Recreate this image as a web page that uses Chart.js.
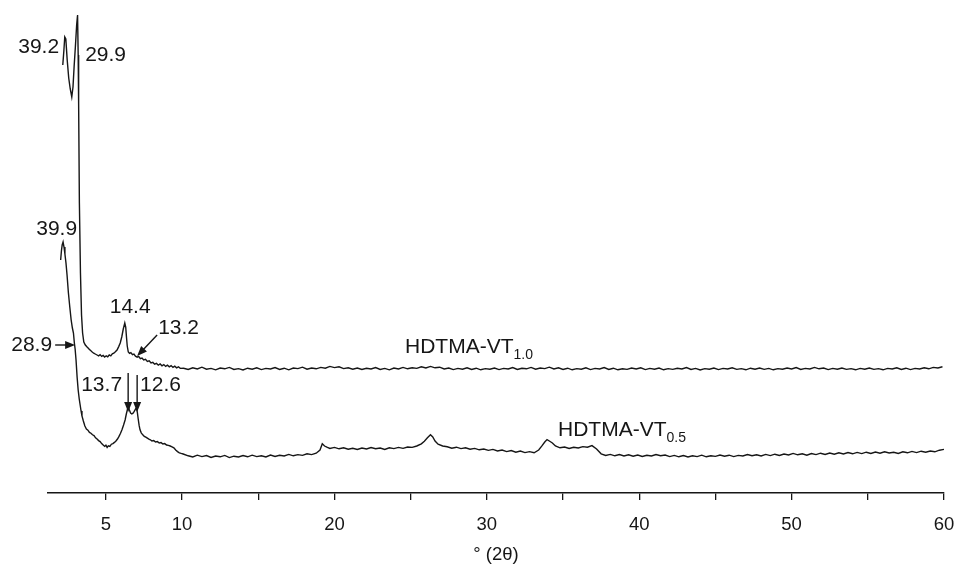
<!DOCTYPE html>
<html>
<head>
<meta charset="utf-8">
<script src="https://cdn.jsdelivr.net/npm/chart.js@4.4.1/dist/chart.umd.min.js"></script>
<style>
  html, body { margin: 0; padding: 0; background: #fff; }
  #wrap { width: 957px; height: 568px; position: relative; }
</style>
</head>
<body>
<div id="wrap"><canvas id="xrd"></canvas></div>
<script>
// XRD patterns, [2theta (deg), intensity (arb. counts)]
const topScan = [
  [2.17,4280],[2.24,4420],[2.30,4560],[2.37,4540],[2.46,4330],[2.56,4150],[2.66,4040],[2.76,3960],[2.84,4060],[2.92,4280],
  [3.00,4470],[3.08,4680],[3.14,4780],[3.18,4380],[3.21,3900],[3.26,2900],[3.33,2200],[3.40,1780],[3.47,1600],[3.55,1510],
  [3.65,1480],[3.75,1462],[3.83,1450],[3.92,1436],[4.00,1424],[4.10,1410],[4.20,1398],[4.30,1390],[4.42,1380],[4.52,1372],
  [4.62,1384],[4.72,1366],[4.82,1376],[4.92,1360],[5.02,1372],[5.12,1362],[5.22,1380],[5.32,1372],[5.42,1392],[5.52,1398],
  [5.62,1412],[5.73,1430],[5.84,1464],[5.94,1500],[6.04,1560],[6.14,1640],[6.24,1700],[6.30,1660],[6.35,1560],[6.40,1470],
  [6.47,1410],[6.55,1396],[6.64,1404],[6.74,1384],[6.84,1390],[6.94,1368],[7.05,1358],[7.15,1366],[7.26,1344],[7.37,1350],
  [7.48,1330],[7.60,1336],[7.72,1316],[7.84,1322],[7.96,1300],[8.08,1306],[8.20,1288],[8.32,1296],[8.44,1278],[8.56,1290],
  [8.68,1272],[8.80,1284],[8.92,1266],[9.04,1278],[9.16,1262],[9.28,1274],[9.40,1256],[9.52,1268],[9.64,1252],[9.76,1262],
  [9.88,1246],
  [10.1,1248],[10.4,1236],[10.7,1252],[11.0,1240],[11.3,1258],[11.6,1238],[11.9,1246],[12.2,1232],[12.5,1250],[12.8,1242],
  [13.1,1256],[13.4,1236],[13.7,1244],[14.0,1230],[14.3,1248],[14.6,1238],[14.9,1252],[15.2,1234],[15.5,1246],[15.8,1240],
  [16.1,1254],[16.4,1236],[16.7,1248],[17.0,1232],[17.3,1250],[17.6,1244],[17.9,1258],[18.2,1238],[18.5,1250],[18.8,1242],
  [19.1,1256],[19.4,1248],[19.7,1266],[20.0,1254],[20.3,1262],[20.6,1244],[20.9,1252],[21.2,1238],[21.5,1250],[21.8,1236],
  [22.1,1248],[22.4,1240],[22.7,1254],[23.0,1236],[23.3,1246],[23.6,1232],[23.9,1250],[24.2,1240],[24.5,1256],[24.8,1242],
  [25.1,1252],[25.4,1246],[25.7,1262],[26.0,1250],[26.3,1266],[26.6,1252],[26.9,1258],[27.2,1240],[27.5,1250],[27.8,1234],
  [28.1,1246],[28.4,1238],[28.7,1252],[29.0,1236],[29.3,1248],[29.6,1232],[29.9,1244],[30.2,1238],[30.5,1250],[30.8,1234],
  [31.1,1246],[31.4,1240],[31.7,1254],[32.0,1236],[32.3,1248],[32.6,1242],[32.9,1256],[33.2,1238],[33.5,1250],[33.8,1244],
  [34.1,1258],[34.4,1240],[34.7,1252],[35.0,1236],[35.3,1248],[35.6,1232],[35.9,1244],[36.2,1238],[36.5,1252],[36.8,1234],
  [37.1,1246],[37.4,1240],[37.7,1254],[38.0,1236],[38.3,1248],[38.6,1232],[38.9,1242],[39.2,1236],[39.5,1250],[39.8,1240],
  [40.1,1252],[40.4,1234],[40.7,1246],[41.0,1238],[41.3,1250],[41.6,1232],[41.9,1244],[42.2,1236],[42.5,1248],[42.8,1240],
  [43.1,1254],[43.4,1236],[43.7,1246],[44.0,1230],[44.3,1244],[44.6,1238],[44.9,1250],[45.2,1234],[45.5,1246],[45.8,1240],
  [46.1,1252],[46.4,1236],[46.7,1244],[47.0,1232],[47.3,1248],[47.6,1238],[47.9,1250],[48.2,1236],[48.5,1246],[48.8,1232],
  [49.1,1244],[49.4,1238],[49.7,1250],[50.0,1240],[50.3,1254],[50.6,1236],[50.9,1246],[51.2,1240],[51.5,1256],[51.8,1242],
  [52.1,1250],[52.4,1234],[52.7,1246],[53.0,1238],[53.3,1250],[53.6,1236],[53.9,1244],[54.2,1232],[54.5,1246],[54.8,1238],
  [55.1,1250],[55.4,1236],[55.7,1244],[56.0,1232],[56.3,1246],[56.6,1240],[56.9,1252],[57.2,1236],[57.5,1248],[57.8,1234],
  [58.1,1246],[58.4,1240],[58.7,1252],[59.0,1242],[59.3,1256],[59.6,1250],[59.9,1262]
];

const bottomScan = [
  [2.03,2330],[2.08,2420],[2.13,2480],[2.19,2510],[2.25,2460],[2.31,2390],[2.38,2300],[2.45,2180],[2.54,2000],[2.63,1860],
  [2.72,1730],[2.80,1650],[2.87,1600],[2.93,1500],[2.98,1440],[3.04,1330],[3.11,1160],[3.18,1030],[3.25,940],[3.31,880],
  [3.37,820],[3.43,770],[3.52,720],[3.62,670],[3.72,640],[3.82,628],[3.92,606],[4.02,598],[4.12,582],[4.22,574],
  [4.32,552],[4.42,540],[4.52,524],[4.62,514],[4.72,494],[4.82,480],[4.92,466],[5.00,478],[5.08,456],[5.16,472],
  [5.26,466],[5.36,488],[5.46,494],[5.56,506],[5.66,520],[5.76,540],[5.86,566],[5.96,598],[6.06,636],[6.16,680],
  [6.26,730],[6.34,790],[6.42,840],[6.47,862],[6.54,830],[6.62,800],[6.70,790],[6.78,798],[6.86,816],[6.94,838],
  [7.00,852],[7.06,810],[7.12,740],[7.18,676],[7.24,632],[7.32,602],[7.42,582],[7.52,566],[7.62,558],[7.72,548],
  [7.82,538],[7.92,532],[8.02,520],[8.14,524],[8.26,510],[8.38,514],[8.50,500],[8.62,504],[8.74,490],[8.86,494],
  [8.98,480],[9.10,476],[9.22,470],[9.34,462],[9.46,452],[9.58,430],[9.70,414],[9.82,402],[9.94,396],[10.07,390],
  [10.4,372],[10.7,360],[11.0,378],[11.3,364],[11.6,374],[11.9,356],[12.2,370],[12.5,362],[12.8,376],[13.1,354],
  [13.4,368],[13.7,360],[14.0,374],[14.3,362],[14.6,378],[14.9,364],[15.2,372],[15.5,360],[15.8,380],[16.1,366],
  [16.4,378],[16.7,370],[17.0,386],[17.3,372],[17.6,384],[17.9,376],[18.2,392],[18.5,384],[18.8,398],[19.05,430],
  [19.2,492],[19.35,470],[19.5,458],[19.7,446],[20.0,456],[20.3,442],[20.6,452],[20.9,438],[21.2,448],[21.5,436],
  [21.8,450],[22.1,440],[22.4,454],[22.7,442],[23.0,450],[23.3,436],[23.6,452],[23.9,444],[24.2,456],[24.5,446],
  [24.8,460],[25.1,456],[25.4,470],[25.7,492],[25.9,518],[26.1,552],[26.3,582],[26.45,560],[26.6,520],[26.8,488],
  [27.1,470],[27.4,462],[27.7,448],[28.0,458],[28.3,444],[28.6,452],[28.9,438],[29.2,446],[29.5,432],[29.8,440],
  [30.1,426],[30.4,436],[30.7,420],[31.0,430],[31.3,414],[31.6,424],[31.9,408],[32.2,420],[32.5,404],[32.8,414],
  [33.1,402],[33.4,430],[33.6,468],[33.8,510],[33.95,534],[34.1,520],[34.3,500],[34.5,470],[34.8,452],[35.1,460],
  [35.4,446],[35.7,458],[36.0,450],[36.3,464],[36.6,458],[36.9,474],[37.2,440],[37.5,392],[37.8,376],[38.1,386],
  [38.4,372],[38.7,384],[39.0,370],[39.3,382],[39.6,368],[39.9,380],[40.2,366],[40.5,378],[40.8,370],[41.1,384],
  [41.4,372],[41.7,380],[42.0,364],[42.3,376],[42.6,362],[42.9,374],[43.2,360],[43.5,372],[43.8,364],[44.1,378],
  [44.4,362],[44.7,372],[45.0,366],[45.3,380],[45.6,368],[45.9,378],[46.2,364],[46.5,376],[46.8,370],[47.1,384],
  [47.4,372],[47.7,382],[48.0,370],[48.3,386],[48.6,374],[48.9,388],[49.2,376],[49.5,390],[49.8,380],[50.1,396],
  [50.4,382],[50.7,392],[51.0,378],[51.3,394],[51.6,384],[51.9,398],[52.2,386],[52.5,400],[52.8,388],[53.1,402],
  [53.4,390],[53.7,404],[54.0,392],[54.3,406],[54.6,394],[54.9,408],[55.2,396],[55.5,410],[55.8,398],[56.1,412],
  [56.4,400],[56.7,408],[57.0,396],[57.3,412],[57.6,402],[57.9,416],[58.2,404],[58.5,418],[58.8,408],[59.1,420],
  [59.4,412],[59.7,428],[60.0,436]
];

const majorTicks = [5, 10, 20, 30, 40, 50, 60];
const minorTicks = [15, 25, 35, 45, 55];

// d-spacings (Å) written next to the peaks, placed in data units
const peakLabels = [
  { text: '39.2', x: 1.93, y: 4460, align: 'right' },
  { text: '29.9', x: 3.64, y: 4380, align: 'left' },
  { text: '39.9', x: 1.77, y: 2640, align: 'center' },
  { text: '14.4', x: 6.59, y: 1860, align: 'center' },
  { text: '13.2', x: 8.43, y: 1650, align: 'left' },
  { text: '28.9', x: 1.47, y: 1480, align: 'right' },
  { text: '13.7', x: 6.06, y: 1080, align: 'right' },
  { text: '12.6', x: 7.24, y: 1080, align: 'left' }
];
const peakArrows = [
  { from: [1.67, 1480], to: [2.98, 1480] },
  { from: [8.36, 1580], to: [7.05, 1370] },
  { from: [6.46, 1200], to: [6.46, 810] },
  { from: [7.05, 1180], to: [7.05, 810] }
];
const seriesNames = [
  { name: 'HDTMA-VT', sub: '1.0', x: 24.63, y: 1460 },
  { name: 'HDTMA-VT', sub: '0.5', x: 34.67, y: 630 }
];

const FONT = '"Liberation Sans", Arial, Helvetica, sans-serif';
const INK = '#161616';

function drawArrow(ctx, x1, y1, x2, y2) {
  const ang = Math.atan2(y2 - y1, x2 - x1), len = 10, half = 4;
  ctx.beginPath();
  ctx.moveTo(x1, y1);
  ctx.lineTo(x2 - Math.cos(ang) * len * 0.8, y2 - Math.sin(ang) * len * 0.8);
  ctx.stroke();
  ctx.beginPath();
  ctx.moveTo(x2, y2);
  ctx.lineTo(x2 - Math.cos(ang) * len - Math.sin(ang) * half, y2 - Math.sin(ang) * len + Math.cos(ang) * half);
  ctx.lineTo(x2 - Math.cos(ang) * len + Math.sin(ang) * half, y2 - Math.sin(ang) * len - Math.cos(ang) * half);
  ctx.closePath();
  ctx.fill();
}

const annotate = {
  id: 'annotate',
  afterDatasetsDraw(chart) {
    const { ctx, scales: { x, y } } = chart;
    ctx.save();
    ctx.fillStyle = INK;
    ctx.strokeStyle = INK;
    ctx.lineWidth = 1.4;
    ctx.textBaseline = 'middle';
    ctx.font = '21px ' + FONT;
    peakLabels.forEach(l => {
      ctx.textAlign = l.align;
      ctx.fillText(l.text, x.getPixelForValue(l.x), y.getPixelForValue(l.y));
    });
    peakArrows.forEach(a => drawArrow(ctx,
      x.getPixelForValue(a.from[0]), y.getPixelForValue(a.from[1]),
      x.getPixelForValue(a.to[0]), y.getPixelForValue(a.to[1])));

    ctx.textAlign = 'left';
    seriesNames.forEach(s => {
      const px = x.getPixelForValue(s.x), py = y.getPixelForValue(s.y);
      ctx.font = '21px ' + FONT;
      ctx.fillText(s.name, px, py);
      const w = ctx.measureText(s.name).width;
      ctx.font = '14px ' + FONT;
      ctx.fillText(s.sub, px + w, py + 8);
    });
    ctx.restore();
  }
};

const lineStyle = { borderColor: INK, borderWidth: 1.4, pointRadius: 0, tension: 0, fill: false };

new Chart(document.getElementById('xrd'), {
  type: 'line',
  data: {
    datasets: [
      { label: 'HDTMA-VT1.0', data: topScan.map(p => ({ x: p[0], y: p[1] })), ...lineStyle },
      { label: 'HDTMA-VT0.5', data: bottomScan.map(p => ({ x: p[0], y: p[1] })), ...lineStyle }
    ]
  },
  options: {
    responsive: true,
    maintainAspectRatio: false,
    animation: false,
    layout: { padding: { left: 48, right: 13, top: 0, bottom: 0 } },
    plugins: { legend: { display: false }, tooltip: { enabled: false } },
    scales: {
      x: {
        type: 'linear',
        min: 1.2, max: 60,
        afterBuildTicks: s => { s.ticks = majorTicks.concat(minorTicks).sort((a, b) => a - b).map(v => ({ value: v })); },
        afterFit: s => { s.height = 75; s.paddingLeft = 0; s.paddingRight = 0; },
        ticks: {
          autoSkip: false, maxRotation: 0, padding: 14,
          color: INK, font: { family: FONT, size: 18.5 },
          callback: v => majorTicks.includes(v) ? String(v) : ''
        },
        grid: { drawOnChartArea: false, drawTicks: true, tickLength: 7, color: INK, lineWidth: 1.3 },
        border: { display: true, color: INK, width: 1.5 },
        title: { display: true, text: '° (2θ)', color: INK, font: { family: FONT, size: 18.5 }, padding: { top: 0, bottom: 2 } }
      },
      y: { display: false, min: 0, max: 4930 }
    }
  },
  plugins: [annotate]
});
</script>
</body>
</html>
